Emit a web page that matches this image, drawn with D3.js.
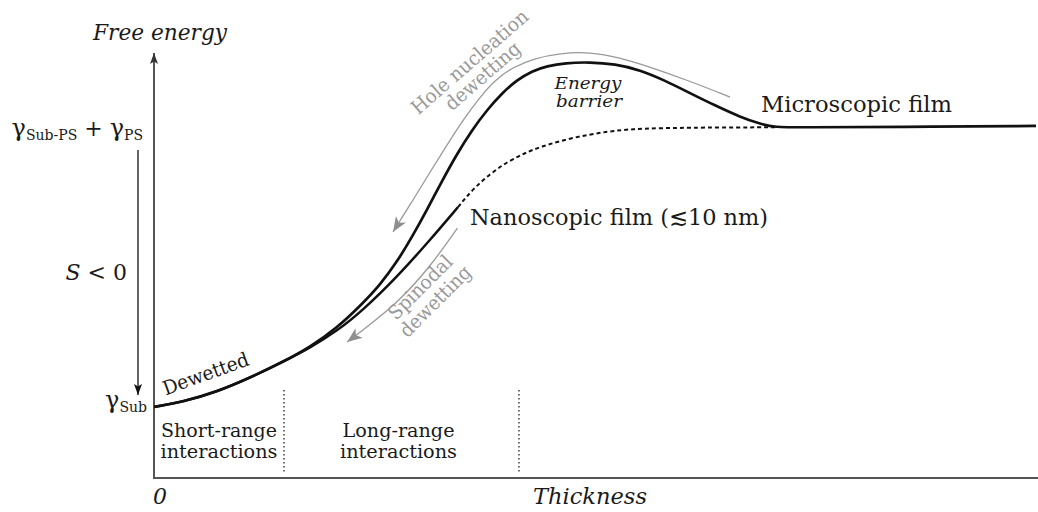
<!DOCTYPE html>
<html><head><meta charset="utf-8">
<script src="https://cdn.jsdelivr.net/npm/d3@7"></script>
<style>
body{margin:0;background:#fff}
svg{display:block}
text{font-family:"DejaVu Serif","Liberation Serif",serif;fill:#1a1a1a}
</style>
</head><body>
<svg id="chart" width="1038" height="512"></svg>
<script>
// ---- data (thickness: arbitrary 0-100, free energy: 0 = γSub, 1 = γSub-PS + γPS)
const thicknessDomain = [0, 100];
const energyDomain = [-0.254, 1.268];

const microX = [0, 3.29, 7.14, 10.88, 14.63, 17.69, 20.75, 23.70, 25.62, 27.55, 29.25, 30.95, 32.65, 34.35, 36.05, 37.76, 39.46, 41.16, 42.86, 44.56, 46.60, 49.43, 52.27, 55.10, 57.94, 60.77, 63.61, 66.44, 68.71, 70.41, 73.24, 84.58, 100];
const microY = [0, 0.018, 0.054, 0.104, 0.161, 0.214, 0.282, 0.371, 0.436, 0.518, 0.607, 0.704, 0.807, 0.904, 0.989, 1.061, 1.121, 1.168, 1.200, 1.218, 1.229, 1.232, 1.225, 1.204, 1.166, 1.121, 1.077, 1.036, 1.011, 0.999, 0.999, 1.0, 1.004];

const nanoX = [0, 3.29, 7.14, 10.88, 14.63, 17.69, 20.75, 23.70, 27.55, 31.29, 34.47];
const nanoY = [0, 0.018, 0.054, 0.104, 0.161, 0.211, 0.271, 0.346, 0.464, 0.596, 0.714];

const metaX = [34.47, 36.17, 38.10, 40.02, 42.06, 43.76, 47.51, 51.36, 54.31, 57.37, 61.90, 70.41];
const metaY = [0.714, 0.779, 0.832, 0.875, 0.907, 0.929, 0.963, 0.984, 0.993, 0.996, 0.998, 0.999];

// process arrows, listed from the arrow tip to the tail
const holeArrowX = [27.10, 29.37, 31.29, 33.22, 35.03, 36.96, 38.66, 40.70, 43.20, 46.03, 49.43, 52.83, 55.90, 60.77, 65.31];
const holeArrowY = [0.625, 0.739, 0.839, 0.936, 1.025, 1.107, 1.168, 1.214, 1.246, 1.264, 1.268, 1.248, 1.218, 1.164, 1.107];

const spinArrowX = [21.9, 23.7, 27.6, 31.3, 34.4];
const spinArrowY = [0.232, 0.275, 0.371, 0.5, 0.639];

const regionBounds = [14.74, 41.38];
const regionLabels = [["Short-range", "interactions"], ["Long-range", "interactions"]];

const yTickValues = [1, 0];
const yTickLabels = [
  [["γ", 0], ["Sub-PS", 1], [" + ", 0], ["γ", 0], ["PS", 1]],
  [["γ", 0], ["Sub", 1]]
];

// ---- drawing
const svg = d3.select("#chart");
const x = d3.scaleLinear().domain(thicknessDomain).range([154, 1036]);
const y = d3.scaleLinear().domain(energyDomain).range([478, 52]);

const defs = svg.append("defs");
function marker(id, w, h, notch, color) {
  defs.append("marker").attr("id", id)
    .attr("viewBox", `0 0 ${w} ${h}`).attr("markerWidth", w).attr("markerHeight", h)
    .attr("refX", w).attr("refY", h / 2).attr("orient", "auto-start-reverse").attr("markerUnits", "userSpaceOnUse")
    .append("path").attr("d", `M0,0L${w},${h / 2}L0,${h}L${notch},${h / 2}Z`).attr("fill", color);
}
marker("axArrow", 11, 8, 2.5, "#333");
marker("blkArrow", 11, 8, 2.5, "#111");
marker("grayArrow", 15, 12, 4, "#8f8f8f");

const line = d3.line().x(d => x(d[0])).y(d => y(d[1])).curve(d3.curveBasis);
const zip = (a, b) => a.map((v, i) => [v, b[i]]);

// axes
svg.append("line").attr("x1", x(0)).attr("x2", x(0)).attr("y1", y(energyDomain[0])).attr("y2", y(energyDomain[1]) + 1)
  .attr("stroke", "#555").attr("stroke-width", 2).attr("marker-end", "url(#axArrow)");
svg.append("line").attr("x1", x(0) - 1).attr("x2", 1038).attr("y1", y(energyDomain[0])).attr("y2", y(energyDomain[0]))
  .attr("stroke", "#555").attr("stroke-width", 2);

// region dividers
regionBounds.forEach(b => {
  svg.append("line").attr("x1", x(b)).attr("x2", x(b)).attr("y1", y(0) - 17).attr("y2", y(energyDomain[0]) - 6)
    .attr("stroke", "#222").attr("stroke-width", 1.3).attr("stroke-dasharray", "1.6,2.4");
});
const regionEdges = [0, ...regionBounds];
regionLabels.forEach((lbl, i) => {
  const cx = (x(regionEdges[i]) + x(regionEdges[i + 1])) / 2 - (i === 1 ? 3 : 0);
  lbl.forEach((t, j) => {
    svg.append("text").attr("x", cx).attr("y", 437 + j * 21).attr("text-anchor", "middle")
      .attr("font-size", 18.5).attr("textLength", j === 0 ? (i === 0 ? 116 : 112) : 117)
      .attr("lengthAdjust", "spacingAndGlyphs").text(t);
  });
});

// curves
svg.append("path").attr("d", line(zip(metaX, metaY))).attr("fill", "none")
  .attr("stroke", "#111").attr("stroke-width", 2).attr("stroke-dasharray", "4,3");
svg.append("path").attr("d", line(zip(nanoX, nanoY))).attr("fill", "none")
  .attr("stroke", "#111").attr("stroke-width", 2.5);
svg.append("path").attr("d", line(zip(microX, microY))).attr("fill", "none")
  .attr("stroke", "#111").attr("stroke-width", 2.7);

// gray process arrows (arrowhead at the first point)
svg.append("path").attr("d", line(zip(holeArrowX, holeArrowY))).attr("fill", "none")
  .attr("stroke", "#999").attr("stroke-width", 1.3).attr("marker-start", "url(#grayArrow)");
svg.append("path").attr("d", line(zip(spinArrowX, spinArrowY))).attr("fill", "none")
  .attr("stroke", "#999").attr("stroke-width", 1.3).attr("marker-start", "url(#grayArrow)");

// S<0 arrow
svg.append("line").attr("x1", 138).attr("x2", 138).attr("y1", y(1) + 23).attr("y2", y(0) - 12)
  .attr("stroke", "#111").attr("stroke-width", 1.3).attr("marker-end", "url(#blkArrow)");

// y tick labels
const tickEnds = [143, 147];
yTickValues.forEach((v, i) => {
  const t = svg.append("text").attr("x", tickEnds[i]).attr("y", y(v) + (i === 0 ? 9 : 1)).attr("text-anchor", "end");
  let prevSub = 0;
  yTickLabels[i].forEach(([s, sub]) => {
    t.append("tspan").attr("font-size", sub ? 14 : (s === "γ" ? 24 : 22))
      .attr("dy", (sub - prevSub) * 4).text(s);
    prevSub = sub;
  });
});

// S < 0
const st = svg.append("text").attr("x", 127).attr("y", 280).attr("text-anchor", "end").attr("font-size", 22);
st.append("tspan").attr("font-style", "italic").text("S");
st.append("tspan").text(" < 0");

// axis titles
svg.append("text").attr("x", 160).attr("y", 40).attr("text-anchor", "middle").attr("font-style", "italic")
  .attr("font-size", 23).attr("textLength", 134).attr("lengthAdjust", "spacingAndGlyphs").text("Free energy");
svg.append("text").attr("x", 533).attr("y", 504).attr("font-style", "italic")
  .attr("font-size", 23).attr("textLength", 114).attr("lengthAdjust", "spacingAndGlyphs").text("Thickness");
svg.append("text").attr("x", x(0) + 6).attr("y", 504).attr("text-anchor", "middle").attr("font-style", "italic")
  .attr("font-size", 22).text("0");

// curve labels
svg.append("text").attr("x", 761).attr("y", 112).attr("font-size", 22.5)
  .attr("textLength", 191).attr("lengthAdjust", "spacingAndGlyphs").text("Microscopic film");
svg.append("text").attr("x", 470).attr("y", 225).attr("font-size", 22.5)
  .attr("textLength", 298).attr("lengthAdjust", "spacingAndGlyphs").text("Nanoscopic film (≲10 nm)");
svg.append("text").attr("x", 588).attr("y", 89).attr("text-anchor", "middle").attr("font-style", "italic")
  .attr("font-size", 16).attr("textLength", 67).attr("lengthAdjust", "spacingAndGlyphs").text("Energy");
svg.append("text").attr("x", 589).attr("y", 107).attr("text-anchor", "middle").attr("font-style", "italic")
  .attr("font-size", 16).attr("textLength", 66).attr("lengthAdjust", "spacingAndGlyphs").text("barrier");

function rotText(cx, cy, ang, str, len, color) {
  svg.append("text").attr("transform", `translate(${cx},${cy}) rotate(${ang})`).attr("text-anchor", "middle")
    .attr("font-size", 19.5).style("fill", color).attr("textLength", len).attr("lengthAdjust", "spacingAndGlyphs").text(str);
}
rotText(208, 380, -20, "Dewetted", 90, "#1a1a1a");
rotText(474, 67, -41, "Hole nucleation", 148, "#999");
rotText(487, 81, -41, "dewetting", 93, "#999");
rotText(425, 292, -45, "Spinodal", 82, "#999");
rotText(440, 306, -45, "dewetting", 92, "#999");
</script>
</body></html>
